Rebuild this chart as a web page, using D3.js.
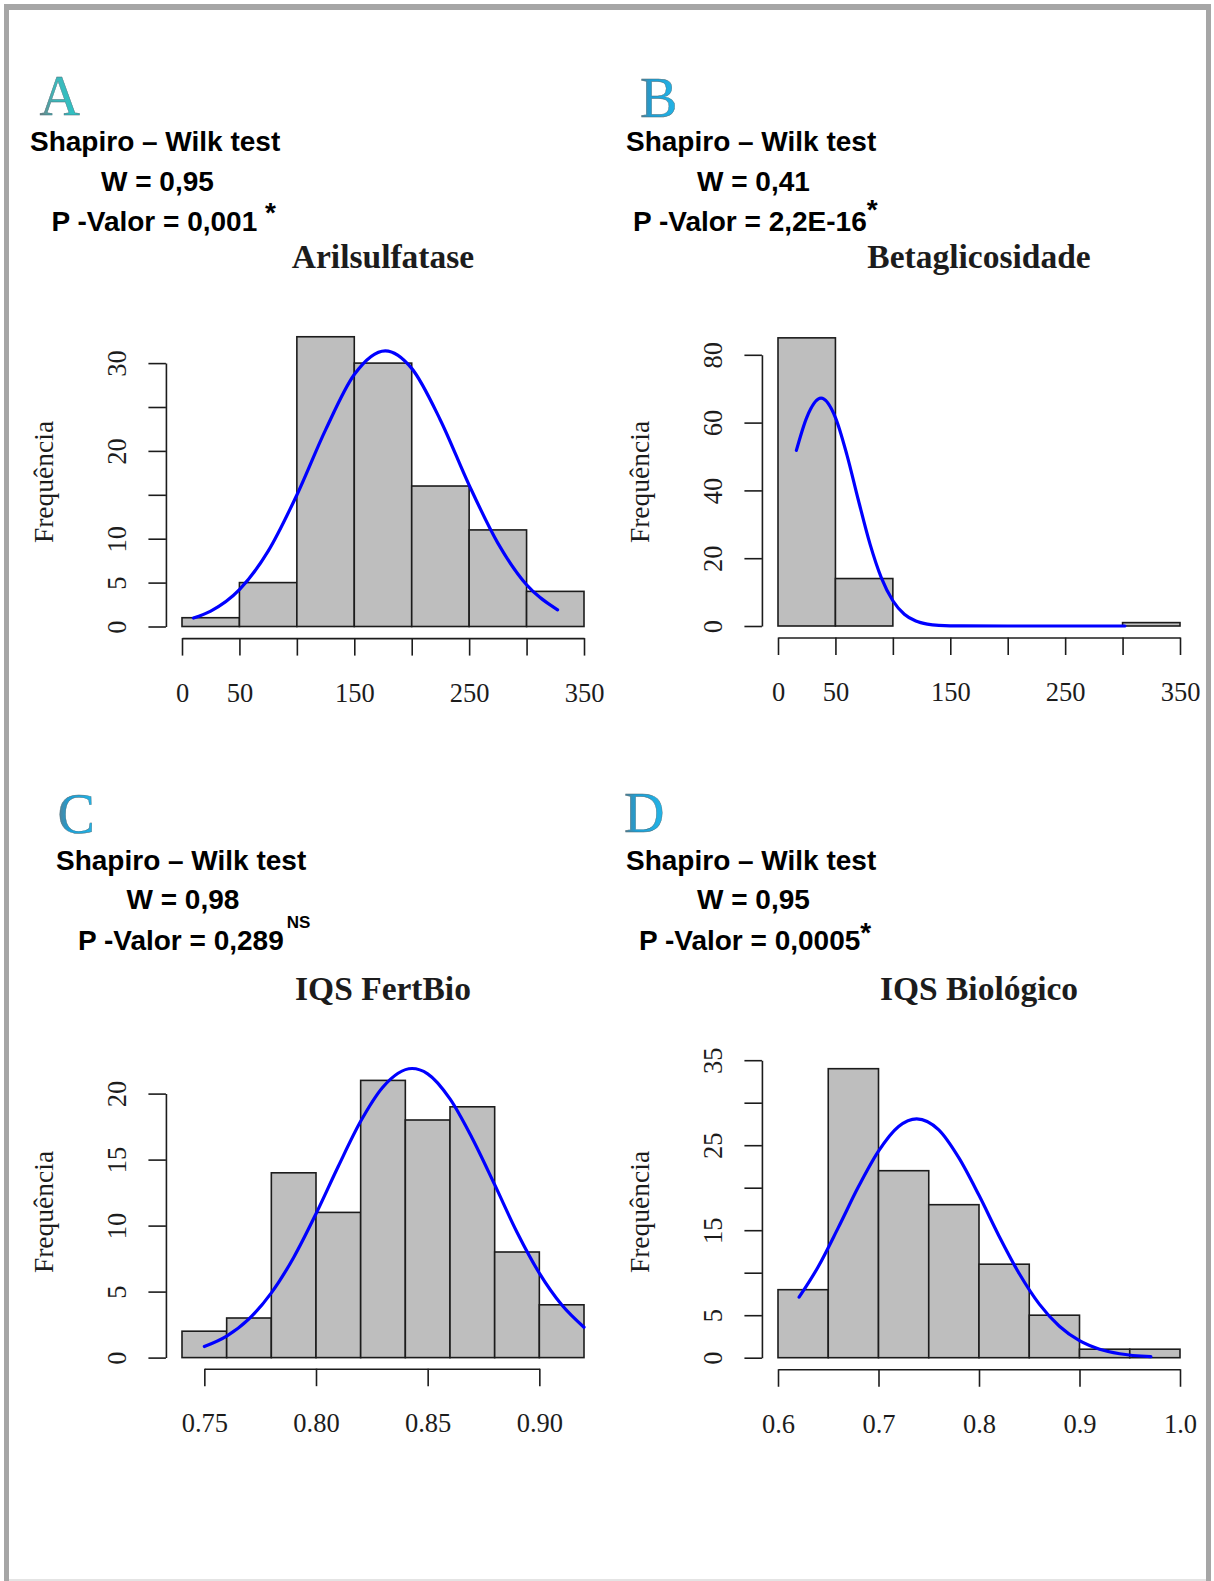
<!DOCTYPE html>
<html>
<head>
<meta charset="utf-8">
<script src="https://cdn.jsdelivr.net/npm/d3@7"></script>
<style>
  body { margin: 0; background: #fff; }
  svg { display: block; }
</style>
</head>
<body>
<svg id="fig" width="1214" height="1581"></svg>
<script>
// ---- values ----
const letters = ["A", "B", "C", "D"];
const titles = ["Arilsulfatase", "Betaglicosidade", "IQS FertBio", "IQS Biológico"];
const wValues = ["0,95", "0,41", "0,98", "0,95"];
const pValues = ["0,001", "2,2E-16", "0,289", "0,0005"];
const pMarks = [" *", "*", "NS", "*"];

// A - Arilsulfatase
const arilBreaks = [0, 50, 100, 150, 200, 250, 300, 350];
const arilCounts = [1, 5, 33, 30, 16, 11, 4];
const arilCurveX = [10, 25, 50, 75, 100, 125, 150, 177, 200, 225, 250, 275, 300, 327];
const arilCurveY = [0.97, 1.76, 4.2, 8.58, 14.98, 22.4, 28.7, 31.4, 29.4, 23.5, 16.1, 9.5, 4.75, 1.9];
const arilYTicks = [0, 5, 10, 15, 20, 25, 30];
const arilYLabels = ["0", "5", "10", "20", "30"];
const arilXTicks = [0, 50, 100, 150, 200, 250, 300, 350];
const arilXLabels = ["0", "50", "150", "250", "350"];

// B - Betaglicosidade
const betaBreaks = [0, 50, 100, 150, 200, 250, 300, 350];
const betaCounts = [85, 14, 0, 0, 0, 0, 1];
const betaCurveX = [16, 25, 37.5, 50, 60, 70, 80, 90, 100, 110, 120, 130, 140, 160, 200, 250, 302];
const betaCurveY = [51.8, 61.5, 67.2, 61.5, 50.5, 37.1, 24.3, 14.2, 7.45, 3.48, 1.46, 0.54, 0.18, 0.01, 0, 0, 0];
const betaYTicks = [0, 20, 40, 60, 80];
const betaYLabels = ["0", "20", "40", "60", "80"];
const betaXTicks = [0, 50, 100, 150, 200, 250, 300, 350];
const betaXLabels = ["0", "50", "150", "250", "350"];

// C - IQS FertBio
const fertBreaks = [0.74, 0.76, 0.78, 0.80, 0.82, 0.84, 0.86, 0.88, 0.90, 0.92];
const fertCounts = [2, 3, 14, 11, 21, 18, 19, 8, 4];
const fertCurveX = [0.75, 0.76, 0.77, 0.78, 0.79, 0.80, 0.81, 0.82, 0.83, 0.843, 0.85, 0.86, 0.87, 0.88, 0.89, 0.90, 0.91, 0.92];
const fertCurveY = [0.84, 1.63, 2.93, 4.9, 7.59, 10.9, 14.5, 17.9, 20.5, 21.9, 21.5, 19.6, 16.6, 13.1, 9.5, 6.4, 4.0, 2.3];
const fertYTicks = [0, 5, 10, 15, 20];
const fertYLabels = ["0", "5", "10", "15", "20"];
const fertXTicks = [0.75, 0.80, 0.85, 0.90];
const fertXLabels = ["0.75", "0.80", "0.85", "0.90"];

// D - IQS Biologico
const bioBreaks = [0.60, 0.65, 0.70, 0.75, 0.80, 0.85, 0.90, 0.95, 1.00];
const bioCounts = [8, 34, 22, 18, 11, 5, 1, 1];
const bioCurveX = [0.621, 0.64, 0.66, 0.68, 0.70, 0.72, 0.738, 0.76, 0.78, 0.80, 0.82, 0.84, 0.86, 0.88, 0.90, 0.92, 0.94, 0.971];
const bioCurveY = [7.12, 10.7, 15.3, 20.1, 24.3, 27.2, 28.1, 26.8, 23.5, 19.1, 14.3, 9.9, 6.3, 3.7, 2.0, 1.0, 0.47, 0.12];
const bioYTicks = [0, 5, 10, 15, 20, 25, 30, 35];
const bioYLabels = ["0", "5", "15", "25", "35"];
const bioXTicks = [0.6, 0.7, 0.8, 0.9, 1.0];
const bioXLabels = ["0.6", "0.7", "0.8", "0.9", "1.0"];

// ---- layout (pixels) ----
const panels = [
  { breaks: arilBreaks, counts: arilCounts, cx: arilCurveX, cy: arilCurveY,
    yTicks: arilYTicks, yLabels: arilYLabels, xTicks: arilXTicks, xLabels: arilXLabels,
    x0: 182, x1: 584, y0: 626.5, yUnit: 8.78, titleY: 268, ylabY: 482,
    letter: [39.5, 115], textX: [30, 101, 51.5], textY: [151, 191, 231], mark: { dy: -9, dx: 0, size: 28 }, grad: "gTeal" },
  { breaks: betaBreaks, counts: betaCounts, cx: betaCurveX, cy: betaCurveY,
    yTicks: betaYTicks, yLabels: betaYLabels, xTicks: betaXTicks, xLabels: betaXLabels,
    x0: 778, x1: 1180, y0: 626, yUnit: 3.39, titleY: 268, ylabY: 482,
    letter: [640, 117], textX: [626, 697, 633], textY: [151, 191, 231], mark: { dy: -12, dx: 0, size: 28 }, grad: "gBlue" },
  { breaks: fertBreaks, counts: fertCounts, cx: fertCurveX, cy: fertCurveY,
    yTicks: fertYTicks, yLabels: fertYLabels, xTicks: fertXTicks, xLabels: fertXLabels,
    x0: 182, x1: 584, y0: 1357.6, yUnit: 13.2, titleY: 1000, ylabY: 1212,
    letter: [57.5, 833], textX: [56, 126.5, 78], textY: [870, 909, 950], mark: { dy: -22, dx: 3, size: 17 }, grad: "gBlue" },
  { breaks: bioBreaks, counts: bioCounts, cx: bioCurveX, cy: bioCurveY,
    yTicks: bioYTicks, yLabels: bioYLabels, xTicks: bioXTicks, xLabels: bioXLabels,
    x0: 778, x1: 1180, y0: 1357.7, yUnit: 8.5, titleY: 1000, ylabY: 1212,
    letter: [624, 832], textX: [626, 697, 639], textY: [870, 909, 950], mark: { dy: -8, dx: 0, size: 28 }, grad: "gBlue" }
];

const serif = '"Liberation Serif", "Times New Roman", serif';
const sans = '"Liberation Sans", Arial, sans-serif';
const ink = "#1c1c1c";

const svg = d3.select("#fig");
svg.append("rect").attr("width", 1214).attr("height", 1581).attr("fill", "#fff");

// gradients for the panel letters
const defs = svg.append("defs");
function grad(id, stops) {
  const lg = defs.append("linearGradient").attr("id", id).attr("x1", 0).attr("x2", 1).attr("y1", 0).attr("y2", 0);
  stops.forEach(s => lg.append("stop").attr("offset", s[0]).attr("stop-color", s[1]));
}
grad("gTeal", [[0, "#6f7f80"], [0.35, "#3fb7b9"], [1, "#2cc4c6"]]);
grad("gBlue", [[0, "#5d7f8f"], [0.3, "#1c9fd6"], [1, "#24b4e6"]]);

// outer frame
svg.append("rect").attr("x", 4).attr("y", 4).attr("width", 1207).attr("height", 6).attr("fill", "#a6a6a6");
svg.append("rect").attr("x", 4).attr("y", 4).attr("width", 5).attr("height", 1577).attr("fill", "#a6a6a6");
svg.append("rect").attr("x", 1206).attr("y", 4).attr("width", 5).attr("height", 1577).attr("fill", "#a6a6a6");
svg.append("rect").attr("x", 9).attr("y", 1579).attr("width", 1197).attr("height", 2).attr("fill", "#e4e4e4");

function labelFor(labels) {
  return d => {
    const s = labels.find(l => Math.abs(+l - d) < 1e-9);
    return s === undefined ? "" : s;
  };
}

function drawPanel(p, i) {
  const lo = p.breaks[0], hi = p.breaks[p.breaks.length - 1];
  const x = d3.scaleLinear().domain([lo, hi]).range([p.x0, p.x1]);
  const yTop = p.yTicks[p.yTicks.length - 1];
  const y = d3.scaleLinear().domain([0, yTop]).range([p.y0, p.y0 - p.yUnit * yTop]);
  const maxC = d3.max(p.counts);
  // R draws the axes 4% outside the data range
  const axisX = x(lo - 0.04 * (hi - lo));
  const axisY = y(-0.04 * maxC);
  const midX = (x(lo) + x(hi)) / 2;

  const g = svg.append("g");

  // bars
  g.selectAll("rect.bar").data(p.counts).join("rect")
    .attr("class", "bar")
    .attr("x", (d, j) => x(p.breaks[j]))
    .attr("width", (d, j) => x(p.breaks[j + 1]) - x(p.breaks[j]))
    .attr("y", d => y(d))
    .attr("height", d => y(0) - y(d))
    .attr("fill", "#bebebe")
    .attr("stroke", ink)
    .attr("stroke-width", 1.6);

  // normal curve
  const line = d3.line().x(d => x(d[0])).y(d => y(d[1])).curve(d3.curveMonotoneX);
  g.append("path")
    .attr("d", line(d3.zip(p.cx, p.cy)))
    .attr("fill", "none")
    .attr("stroke", "#0000ff")
    .attr("stroke-width", 3.2)
    .attr("stroke-linecap", "round");

  // y axis
  const ya = g.append("g").attr("transform", `translate(${axisX},0)`)
    .call(d3.axisLeft(y).tickValues(p.yTicks).tickSize(17.5).tickSizeOuter(0).tickFormat(labelFor(p.yLabels)));
  ya.selectAll("text")
    .attr("x", null).attr("dy", null)
    .attr("text-anchor", "middle")
    .attr("transform", "translate(-39.5,0) rotate(-90)");

  // x axis, from first to last tick only
  const xt0 = p.xTicks[0], xt1 = p.xTicks[p.xTicks.length - 1];
  const xs = d3.scaleLinear().domain([xt0, xt1]).range([x(xt0), x(xt1)]);
  const xa = g.append("g").attr("transform", `translate(0,${axisY})`)
    .call(d3.axisBottom(xs).tickValues(p.xTicks).tickSize(17.5).tickSizeOuter(0).tickFormat(labelFor(p.xLabels)));
  xa.selectAll("text").attr("y", 63.5).attr("dy", null);

  [ya, xa].forEach(a => {
    a.selectAll("path, line").attr("stroke", ink).attr("stroke-width", 1.6);
    a.selectAll("text").attr("fill", ink).style("font-family", serif).style("font-size", "26.5px");
  });

  // y label
  g.append("text")
    .attr("transform", `translate(${axisX - 112.5},${p.ylabY}) rotate(-90)`)
    .attr("text-anchor", "middle")
    .style("font-family", serif).style("font-size", "27.5px")
    .attr("fill", ink)
    .text("Frequência");

  // title
  g.append("text")
    .attr("x", midX).attr("y", p.titleY)
    .attr("text-anchor", "middle")
    .style("font-family", serif).style("font-size", "33.5px").style("font-weight", "bold")
    .attr("fill", ink)
    .text(titles[i]);

  // panel letter
  g.append("text")
    .attr("x", p.letter[0]).attr("y", p.letter[1])
    .style("font-family", serif).style("font-size", "56px")
    .attr("fill", `url(#${p.grad})`)
    .attr("stroke", "#4a6a75").attr("stroke-width", 0.4)
    .text(letters[i]);

  // Shapiro-Wilk text
  const lines = ["Shapiro – Wilk test", "W = " + wValues[i], "P -Valor = " + pValues[i]];
  lines.forEach((t, k) => {
    const tx = g.append("text")
      .attr("x", p.textX[k]).attr("y", p.textY[k])
      .style("font-family", sans).style("font-size", "28px").style("font-weight", "bold")
      .attr("fill", "#000")
      .text(t);
    if (k === 2) {
      tx.append("tspan")
        .attr("dx", p.mark.dx)
        .attr("dy", p.mark.dy)
        .style("font-size", p.mark.size + "px")
        .text(pMarks[i]);
    }
  });
}

panels.forEach(drawPanel);
</script>
</body>
</html>
